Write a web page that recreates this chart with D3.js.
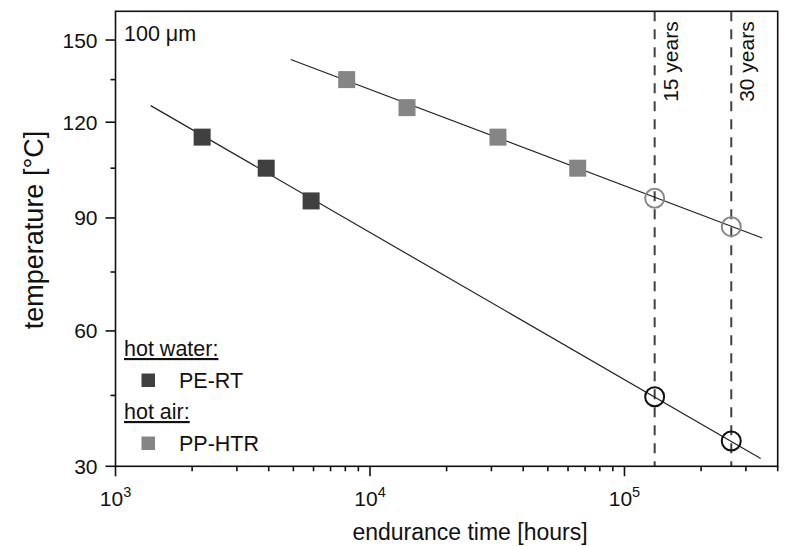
<!DOCTYPE html>
<html>
<head>
<meta charset="utf-8">
<script src="https://cdn.jsdelivr.net/npm/d3@7"></script>
<style>
  body { margin: 0; background: #fff; }
  svg { font-family: "Liberation Sans", Arial, sans-serif; }
</style>
</head>
<body>
<div class="chart"></div>
<script>
// measured points, endurance time [h] / temperature [°C]
const peTime = [2190, 3910, 5870];
const peTemp = [115, 105, 95];
const ppTime = [8100, 13980, 31830, 65490];
const ppTemp = [135, 125, 115, 105];

// extrapolated values at 15 and 30 years
const lifeTime = [131400, 262800];
const lifeLabels = ['15 years', '30 years'];
const pePredTemp = [44.7, 35.2];
const ppPredTemp = [95.8, 87.5];

// regression line ends
const peLineTime = [1375, 343000];
const peLineTemp = [125.7, 31.6];
const ppLineTime = [4880, 347800];
const ppLineTemp = [142.5, 84.3];

const yTicks = [30, 60, 90, 120, 150];
const yMinor = [45, 75, 105, 135];
const xTicks = [1e3, 1e4, 1e5];

const width = 796, height = 546;
const m = { left: 115.5, right: 18.3, top: 11.3, bottom: 79.7 };

const K = 273.15;
const inv = T => 1 / (T + K);

const x = d3.scaleLog().domain([1e3, 4e5]).range([m.left, width - m.right]);
// Arrhenius axis: linear in 1/T
const yLin = d3.scaleLinear().domain([inv(161.6), inv(30)]).range([m.top, height - m.bottom]);
const y = T => yLin(inv(T));

const svg = d3.select('.chart').append('svg').attr('width', width).attr('height', height);

const x0 = m.left, x1 = width - m.right, y0 = m.top, y1 = height - m.bottom;

// dashed lifetime lines
svg.selectAll('.life')
  .data(lifeTime)
  .enter()
  .append('line')
  .attr('x1', d => x(d)).attr('x2', d => x(d))
  .attr('y1', y0).attr('y2', y1)
  .attr('stroke', '#404040')
  .attr('stroke-width', 2)
  .attr('stroke-dasharray', '10,8');

svg.selectAll('.lifeLabel')
  .data(lifeTime)
  .enter()
  .append('text')
  .attr('transform', d => `translate(${x(d) + 23},${y0 + 10}) rotate(-90)`)
  .attr('text-anchor', 'end')
  .attr('font-size', 21)
  .attr('fill', '#111')
  .text((d, i) => lifeLabels[i]);

// regression lines
const fitLine = (ts, Ts) =>
  svg.append('line')
    .attr('x1', x(ts[0])).attr('y1', y(Ts[0]))
    .attr('x2', x(ts[1])).attr('y2', y(Ts[1]))
    .attr('stroke', '#222')
    .attr('stroke-width', 1.2);
fitLine(peLineTime, peLineTemp);
fitLine(ppLineTime, ppLineTemp);

// squares
const sq = 17;
const squares = (ts, Ts, color) =>
  svg.append('g').selectAll('rect')
    .data(ts)
    .enter()
    .append('rect')
    .attr('x', d => x(d) - sq / 2)
    .attr('y', (d, i) => y(Ts[i]) - sq / 2)
    .attr('width', sq).attr('height', sq)
    .attr('fill', color);
squares(peTime, peTemp, '#404040');
squares(ppTime, ppTemp, '#858585');

// open circles
const circles = (Ts, color) =>
  svg.append('g').selectAll('circle')
    .data(lifeTime)
    .enter()
    .append('circle')
    .attr('cx', d => x(d))
    .attr('cy', (d, i) => y(Ts[i]))
    .attr('r', 9.5)
    .attr('fill', 'none')
    .attr('stroke', color)
    .attr('stroke-width', 2);
circles(pePredTemp, '#111');
circles(ppPredTemp, '#888');

// frame
svg.append('rect')
  .attr('x', x0).attr('y', y0)
  .attr('width', x1 - x0).attr('height', y1 - y0)
  .attr('fill', 'none')
  .attr('stroke', '#111')
  .attr('stroke-width', 1.6);

// y axis
const yAxis = svg.append('g');
yAxis.selectAll('.major')
  .data(yTicks)
  .enter()
  .append('line')
  .attr('x1', x0 - 10).attr('x2', x0)
  .attr('y1', d => y(d)).attr('y2', d => y(d))
  .attr('stroke', '#111').attr('stroke-width', 1.6);
yAxis.selectAll('.minor')
  .data(yMinor)
  .enter()
  .append('line')
  .attr('x1', x0 - 5).attr('x2', x0)
  .attr('y1', d => y(d)).attr('y2', d => y(d))
  .attr('stroke', '#111').attr('stroke-width', 1.6);
yAxis.selectAll('text')
  .data(yTicks)
  .enter()
  .append('text')
  .attr('x', x0 - 18)
  .attr('y', d => y(d) + 7.5)
  .attr('text-anchor', 'end')
  .attr('font-size', 21)
  .attr('fill', '#111')
  .text(d => d);

// x axis
const xMinor = [];
[1e3, 1e4, 1e5].forEach(p => d3.range(2, 10).forEach(k => { if (k * p <= 4e5) xMinor.push(k * p); }));
const xAxis = svg.append('g');
xAxis.selectAll('.major')
  .data(xTicks)
  .enter()
  .append('line')
  .attr('x1', d => x(d)).attr('x2', d => x(d))
  .attr('y1', y1).attr('y2', y1 + 10)
  .attr('stroke', '#111').attr('stroke-width', 1.6);
xAxis.selectAll('.minor')
  .data(xMinor)
  .enter()
  .append('line')
  .attr('x1', d => x(d)).attr('x2', d => x(d))
  .attr('y1', y1).attr('y2', y1 + 5)
  .attr('stroke', '#111').attr('stroke-width', 1.6);
const xl = xAxis.selectAll('text')
  .data(xTicks)
  .enter()
  .append('text')
  .attr('x', d => x(d))
  .attr('y', y1 + 40)
  .attr('text-anchor', 'middle')
  .attr('font-size', 21)
  .attr('fill', '#111');
xl.append('tspan').text('10');
xl.append('tspan').attr('dy', -9).attr('font-size', 14.5).text(d => Math.round(Math.log10(d)));

// axis titles
svg.append('text')
  .attr('x', 470)
  .attr('y', 540)
  .attr('text-anchor', 'middle')
  .attr('font-size', 23)
  .attr('fill', '#111')
  .text('endurance time [hours]');
svg.append('text')
  .attr('transform', `translate(43,${230}) rotate(-90)`)
  .attr('text-anchor', 'middle')
  .attr('font-size', 27)
  .attr('fill', '#111')
  .text('temperature [°C]');

svg.append('text')
  .attr('x', 124).attr('y', 41)
  .attr('font-size', 21.5)
  .attr('fill', '#111')
  .text('100 μm');

// legend
const legend = [
  { head: 'hot water:', name: 'PE-RT', color: '#404040' },
  { head: 'hot air:', name: 'PP-HTR', color: '#858585' }
];
const lg = svg.selectAll('.legend')
  .data(legend)
  .enter()
  .append('g')
  .attr('transform', (d, i) => `translate(124,${356 + i * 63})`);
lg.append('text')
  .attr('font-size', 21.5)
  .attr('fill', '#111')
  .attr('text-decoration', 'underline')
  .text(d => d.head);
lg.append('rect')
  .attr('x', 17.5).attr('y', 17.5)
  .attr('width', 13.5).attr('height', 13.5)
  .attr('fill', d => d.color);
lg.append('text')
  .attr('x', 55).attr('y', 32)
  .attr('font-size', 21.5)
  .attr('fill', '#111')
  .text(d => d.name);
</script>
</body>
</html>
